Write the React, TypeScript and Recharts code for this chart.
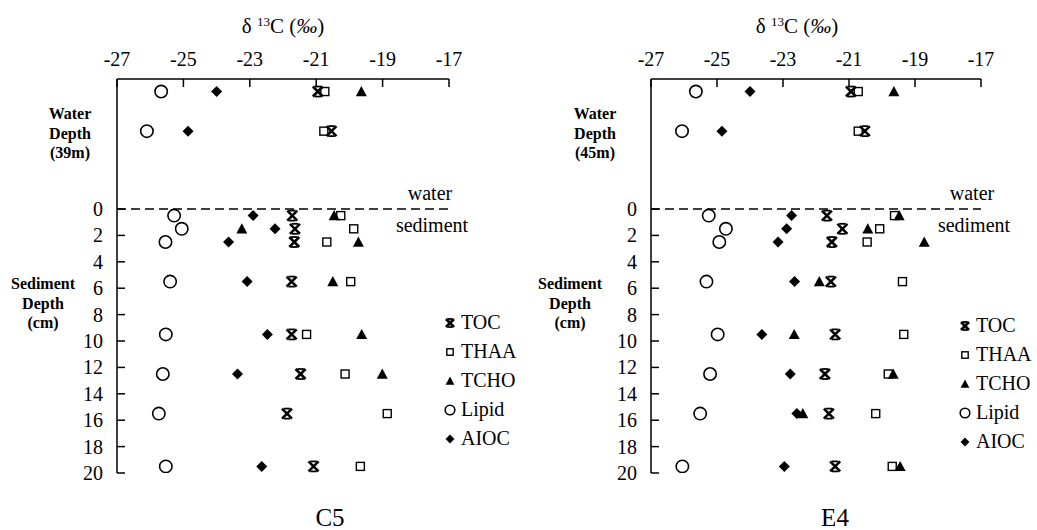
import { ReferenceLine, Scatter, ScatterChart, XAxis, YAxis } from "recharts";

const FONT = "'Liberation Serif', 'Times New Roman', serif";

// depth rows: two water samples (drawn above the sediment axis), then sediment depths in cm
const depths = [-8.9, -5.9, 0.5, 1.5, 2.5, 5.5, 9.5, 12.5, 15.5, 19.5];
const xTicks = [-27, -25, -23, -21, -19, -17];
const yTicks = [0, 2, 4, 6, 8, 10, 12, 14, 16, 18, 20];
const seriesNames = ["TOC", "THAA", "TCHO", "Lipid", "AIOC"];

// δ13C values, station C5
const c5Toc = [-20.95, -20.54, -21.72, -21.64, -21.66, -21.74, -21.74, -21.47, -21.88, -21.08];
const c5Thaa = [-20.74, -20.77, -20.26, -19.87, -20.68, -19.96, -21.29, -20.13, -18.86, -19.67];
const c5Tcho = [-19.64, null, -20.46, -23.24, -19.73, -20.5, -19.63, -19.01, null, null];
const c5Lipid = [-25.67, -26.1, -25.28, -25.05, -25.54, -25.4, -25.53, -25.62, -25.74, -25.53];
const c5Aioc = [-24.0, -24.86, -22.9, -22.24, -23.64, -23.08, -22.47, -23.37, null, -22.64];

// δ13C values, station E4
const e4Toc = [-20.94, -20.52, -21.67, -21.2, -21.52, -21.55, -21.42, -21.73, -21.61, -21.42];
const e4Thaa = [-20.72, -20.72, -19.62, -20.07, -20.45, -19.38, -19.34, -19.81, -20.19, -19.69];
const e4Tcho = [-19.64, null, -19.48, -20.43, -18.72, -21.9, -22.66, -19.66, -22.4, -19.45];
const e4Lipid = [-25.64, -26.06, -25.25, -24.73, -24.93, -25.32, -24.98, -25.21, -25.51, -26.05];
const e4Aioc = [-24.0, -24.85, -22.74, -22.89, -23.15, -22.65, -23.64, -22.78, -22.58, -22.96];

type Pt = { x: number; y: number };

function toPoints(values: (number | null)[]): Pt[] {
  const out: Pt[] = [];
  values.forEach((v, i) => {
    if (v !== null) out.push({ x: v, y: depths[i] });
  });
  return out;
}

function Marker({ kind, cx, cy, small }: { kind: string; cx: number; cy: number; small?: boolean }) {
  const k = small ? 0.8 : 1;
  if (kind === "TOC") {
    const h = 5 * k;
    const b = 3.2 * k;
    return (
      <g stroke="#000" strokeLinecap="butt">
        <line x1={cx - h} y1={cy - h} x2={cx + h} y2={cy + h} strokeWidth={2.6} />
        <line x1={cx + h} y1={cy - h} x2={cx - h} y2={cy + h} strokeWidth={2.6} />
        <line x1={cx - b} y1={cy - h} x2={cx + b} y2={cy - h} strokeWidth={1.8} />
        <line x1={cx - b} y1={cy + h} x2={cx + b} y2={cy + h} strokeWidth={1.8} />
      </g>
    );
  }
  if (kind === "THAA") {
    const s = 4 * k;
    return <rect x={cx - s} y={cy - s} width={2 * s} height={2 * s} fill="#fff" fillOpacity={0} stroke="#000" strokeWidth={1.4} />;
  }
  if (kind === "TCHO") {
    const s = 5.5 * k;
    return <polygon points={`${cx},${cy - s} ${cx + s},${cy + s * 0.85} ${cx - s},${cy + s * 0.85}`} fill="#000" />;
  }
  if (kind === "Lipid") {
    return <circle cx={cx} cy={cy} r={small ? 4.8 : 6.2} fill="none" stroke="#000" strokeWidth={1.6} />;
  }
  const d = 5.5 * k;
  return <polygon points={`${cx},${cy - d} ${cx + d},${cy} ${cx},${cy + d} ${cx - d},${cy}`} fill="#000" />;
}

const X_MARGIN = 13;
const Y_MARGIN = 14;

function TopTick(props: any) {
  const { x, y, payload } = props;
  const axisY = y + X_MARGIN;
  return (
    <g>
      <line x1={x} y1={axisY} x2={x} y2={axisY + 8} stroke="#000" strokeWidth={1.5} />
      <text x={x} y={y} textAnchor="middle" fontFamily={FONT} fontSize={20} fill="#000">
        {payload.value}
      </text>
    </g>
  );
}

function LeftTick(props: any) {
  const { x, y, payload } = props;
  const axisX = x + Y_MARGIN;
  return (
    <g>
      <line x1={axisX} y1={y} x2={axisX + 8} y2={y} stroke="#000" strokeWidth={1.5} />
      <text x={x} y={y + 7} textAnchor="end" fontFamily={FONT} fontSize={20} fill="#000">
        {payload.value}
      </text>
    </g>
  );
}

function LegendBox({ left, top }: { left: number; top: number }) {
  return (
    <div style={{ position: "absolute", left, top, fontFamily: FONT, fontSize: 20, color: "#000", lineHeight: "29px" }}>
      {seriesNames.map((name) => (
        <div key={name} style={{ display: "flex", alignItems: "center", height: 29, whiteSpace: "nowrap" }}>
          <svg width={16} height={16} style={{ marginRight: 3 }}>
            <Marker kind={name} cx={8} cy={8} small />
          </svg>
          <span>{name}</span>
        </div>
      ))}
    </div>
  );
}

type PanelProps = {
  left: number;
  margin: { top: number; right: number; bottom: number; left: number };
  series: (number | null)[][];
};

function Panel({ left, margin, series }: PanelProps) {
  return (
    <div style={{ position: "absolute", left, top: 0 }}>
      <ScatterChart width={518} height={530} margin={margin}>
        <XAxis
          type="number"
          dataKey="x"
          orientation="top"
          domain={[-27, -17]}
          ticks={xTicks}
          interval={0}
          height={30}
          tickSize={0}
          tickMargin={X_MARGIN}
          tick={<TopTick />}
          axisLine={{ stroke: "#000", strokeWidth: 1.5 }}
          allowDataOverflow
        />
        <YAxis
          type="number"
          dataKey="y"
          domain={[-9.85, 20]}
          reversed
          ticks={yTicks}
          interval={0}
          width={40}
          tickSize={0}
          tickMargin={Y_MARGIN}
          tick={<LeftTick />}
          axisLine={{ stroke: "#000", strokeWidth: 1.5 }}
          allowDataOverflow
        />
        <ReferenceLine y={0} stroke="#000" strokeWidth={1.5} strokeDasharray="9 5" />
        {seriesNames.map((name, i) => (
          <Scatter
            key={name}
            name={name}
            data={toPoints(series[i])}
            isAnimationActive={false}
            shape={(p: any) => <Marker kind={name} cx={p.cx} cy={p.cy} />}
          />
        ))}
      </ScatterChart>
    </div>
  );
}

function Labels({ dx, axisCenter, station, waterDepth, waterX, sedX, labelX, titleX }: any) {
  return (
    <g fontFamily={FONT} fill="#000">
      <text x={axisCenter + dx} y={33} textAnchor="middle" fontSize={21}>
        δ <tspan fontSize={13} dy={-7}>13</tspan>
        <tspan dy={7}>C (</tspan>
        <tspan fontStyle="italic">‰</tspan>)
      </text>
      <g fontWeight="bold" fontSize={16} textAnchor="middle">
        <text x={waterX + dx} y={119}>Water</text>
        <text x={waterX + dx} y={139}>Depth</text>
        <text x={waterX + dx} y={158}>{waterDepth}</text>
        <text x={sedX + dx} y={289}>Sediment</text>
        <text x={sedX + dx} y={309}>Depth</text>
        <text x={sedX + dx} y={328}>(cm)</text>
      </g>
      <text x={labelX + dx} y={200} textAnchor="middle" fontSize={20}>water</text>
      <text x={labelX + 2 + dx} y={232} textAnchor="middle" fontSize={20}>sediment</text>
      <text x={titleX + dx} y={526} textAnchor="middle" fontSize={25}>{station}</text>
    </g>
  );
}

export default function App() {
  return (
    <div style={{ position: "absolute", left: 0, top: 0, width: 1037, height: 530, background: "#fff", overflow: "hidden" }}>
      <Panel left={0} margin={{ top: 49, right: 69, bottom: 57, left: 77 }} series={[c5Toc, c5Thaa, c5Tcho, c5Lipid, c5Aioc]} />
      <Panel left={519} margin={{ top: 49, right: 56, bottom: 57, left: 92 }} series={[e4Toc, e4Thaa, e4Tcho, e4Lipid, e4Aioc]} />
      <LegendBox left={442} top={308} />
      <LegendBox left={957} top={311} />
      <svg width={1037} height={530} style={{ position: "absolute", left: 0, top: 0, pointerEvents: "none" }}>
        <Labels dx={0} axisCenter={283} station="C5" waterDepth="(39m)" waterX={70} sedX={43} labelX={430} titleX={330} />
        <Labels dx={519} axisCenter={278} station="E4" waterDepth="(45m)" waterX={76} sedX={51} labelX={453} titleX={316} />
      </svg>
    </div>
  );
}
